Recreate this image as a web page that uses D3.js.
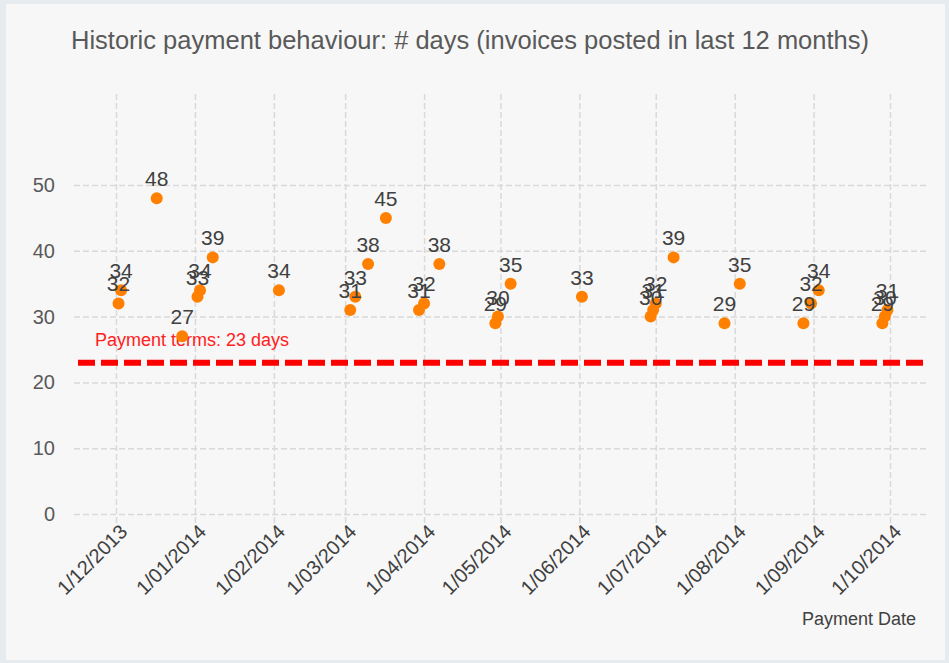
<!DOCTYPE html>
<html>
<head>
<meta charset="utf-8">
<script src="https://cdn.jsdelivr.net/npm/d3@7"></script>
<style>
  body { margin: 0; background: #e6ebef; }
  svg { display: block; font-family: "Liberation Sans", Arial, sans-serif; }
</style>
</head>
<body>
<svg id="chart" width="949" height="663"></svg>
<script>
// payment dates and # days
const paymentDates = ["2013-12-02","2013-12-03","2013-12-17","2013-12-27","2014-01-02","2014-01-03","2014-01-08","2014-02-03",
  "2014-03-03","2014-03-05","2014-03-10","2014-03-17","2014-03-30","2014-04-01","2014-04-07","2014-04-29","2014-04-30","2014-05-05",
  "2014-06-02","2014-06-29","2014-06-30","2014-07-01","2014-07-08","2014-07-28","2014-08-03","2014-08-28","2014-08-31","2014-09-03",
  "2014-09-28","2014-09-29","2014-09-30"]
const days = [32,34,48,27,33,34,39,34,31,33,38,45,31,32,38,29,30,35,33,30,31,32,39,29,35,29,32,34,29,30,31]

const xTickLabels = ["1/12/2013","1/01/2014","1/02/2014","1/03/2014","1/04/2014","1/05/2014","1/06/2014","1/07/2014","1/08/2014","1/09/2014","1/10/2014"]
const yTicks = [0,10,20,30,40,50]
const paymentTerms = 23

const parseDay = d3.timeParse("%Y-%m-%d")
const parseTick = d3.timeParse("%-d/%m/%Y")
const data = paymentDates.map((d,i) => ({date: parseDay(d), value: days[i]}))
const tickDates = xTickLabels.map(parseTick)

const svg = d3.select("#chart")

// panel
svg.append("rect").attr("x",6).attr("y",4).attr("width",939).attr("height",656).attr("fill","#f7f7f7")

// scales
const x = d3.scaleTime()
            .domain([tickDates[0], tickDates[tickDates.length-1]])
            .range([116,890])
const y = d3.scaleLinear()
            .domain([0,50])
            .range([514,185])

const plotLeft = 74, plotRight = 928, plotTop = y(64), plotBottom = y(0) + 9

// title
svg.append("text")
   .attr("x",71).attr("y",49)
   .attr("textLength",798).attr("lengthAdjust","spacingAndGlyphs")
   .style("font-size","26px").style("fill","#595959")
   .text("Historic payment behaviour: # days (invoices posted in last 12 months)")

// y axis + horizontal grid
const yAxis = d3.axisLeft(y).tickValues(yTicks).tickSize(-(plotRight-plotLeft)).tickPadding(19)
const yg = svg.append("g").attr("transform",`translate(${plotLeft},0)`).call(yAxis)
yg.select(".domain").remove()
yg.selectAll("line").attr("stroke","#d9d9d9").attr("stroke-width",1.5).attr("stroke-dasharray","6,3")
yg.selectAll("text").style("font-size","20px").style("fill","#595959").style("font-family","Liberation Sans, Arial, sans-serif")

// x axis + vertical grid
const xAxis = d3.axisBottom(x).tickValues(tickDates).tickFormat((d,i) => xTickLabels[i]).tickSize(-(plotBottom-plotTop))
const xg = svg.append("g").attr("transform",`translate(0,${plotBottom})`).call(xAxis)
xg.select(".domain").remove()
xg.selectAll("line").attr("stroke","#d9d9d9").attr("stroke-width",1.5).attr("stroke-dasharray","6,3")
xg.selectAll("text")
  .attr("transform","translate(12,10) rotate(-45)")
  .attr("x",0).attr("y",0).attr("dy",null)
  .style("text-anchor","end")
  .style("font-size","20px").style("fill","#404040").style("font-family","Liberation Sans, Arial, sans-serif")

// payment terms line
svg.append("line")
   .attr("x1",78).attr("x2",plotRight)
   .attr("y1",y(paymentTerms)).attr("y2",y(paymentTerms))
   .attr("stroke","#ff0000").attr("stroke-width",6).attr("stroke-dasharray","17,6")
svg.append("text")
   .attr("x",95).attr("y",y(paymentTerms)-17)
   .style("font-size","18px").style("fill","#ff2020")
   .text(`Payment terms: ${paymentTerms} days`)

// points
svg.append("g").selectAll("circle")
   .data(data).enter()
   .append("circle")
   .attr("cx", d => x(d.date))
   .attr("cy", d => y(d.value))
   .attr("r",6)
   .attr("fill","#ff8000")

// labels
svg.append("g").selectAll("text")
   .data(data).enter()
   .append("text")
   .attr("x", d => x(d.date))
   .attr("y", d => y(d.value) - 12)
   .style("text-anchor","middle")
   .style("font-size","21px").style("fill","#404040")
   .text(d => d.value)

// axis title
svg.append("text")
   .attr("x",916).attr("y",625)
   .style("text-anchor","end")
   .style("font-size","18px").style("fill","#404040")
   .text("Payment Date")
</script>
</body>
</html>
